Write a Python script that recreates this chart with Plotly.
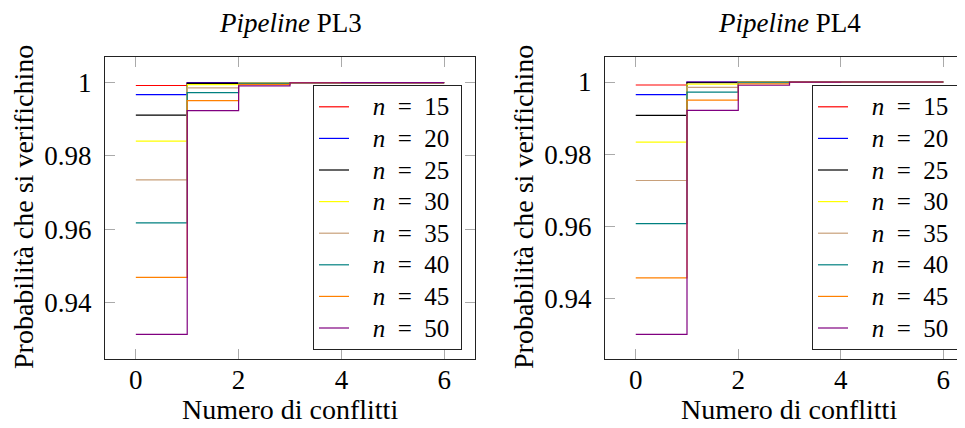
import plotly.graph_objects as go

conflicts = [0, 1, 2, 3, 4, 5, 6]
n_labels = ["15", "20", "25", "30", "35", "40", "45", "50"]
colors = ["#ff0000", "#0000ff", "#000000", "#ffff00", "#c8a07a", "#008080", "#ff8000", "#800080"]

pl3_n15 = [0.9992, 0.99998, 1, 1, 1, 1, 1]
pl3_n20 = [0.99673, 0.99995, 1, 1, 1, 1, 1]
pl3_n25 = [0.99109, 0.9998, 1, 1, 1, 1, 1]
pl3_n30 = [0.98399, 0.99945, 0.99998, 1, 1, 1, 1]
pl3_n35 = [0.97344, 0.99855, 0.99992, 1, 1, 1, 1]
pl3_n40 = [0.96171, 0.99727, 0.9998, 1, 1, 1, 1]
pl3_n45 = [0.94682, 0.99509, 0.9995, 0.99998, 1, 1, 1]
pl3_n50 = [0.93127, 0.99236, 0.9991, 0.99995, 1, 1, 1]

pl4_n15 = [0.99917, 0.99998, 1, 1, 1, 1, 1]
pl4_n20 = [0.99648, 0.99995, 1, 1, 1, 1, 1]
pl4_n25 = [0.99073, 0.9998, 1, 1, 1, 1, 1]
pl4_n30 = [0.98333, 0.99942, 0.99998, 1, 1, 1, 1]
pl4_n35 = [0.97267, 0.99852, 0.99992, 1, 1, 1, 1]
pl4_n40 = [0.96072, 0.99722, 0.9998, 1, 1, 1, 1]
pl4_n45 = [0.94564, 0.995, 0.9995, 0.99998, 1, 1, 1]
pl4_n50 = [0.92999, 0.99213, 0.9991, 0.99995, 1, 1, 1]

pl3 = [pl3_n15, pl3_n20, pl3_n25, pl3_n30, pl3_n35, pl3_n40, pl3_n45, pl3_n50]
pl4 = [pl4_n15, pl4_n20, pl4_n25, pl4_n30, pl4_n35, pl4_n40, pl4_n45, pl4_n50]

FONT = "Liberation Serif"
fig = go.Figure()

NB = "\u00a0"
for series, xa, ya, lg in [(pl3, "x", "y", "legend"), (pl4, "x2", "y2", "legend2")]:
    for lab, col, ys in zip(n_labels, colors, series):
        fig.add_trace(go.Scatter(
            x=conflicts, y=ys, mode="lines", line=dict(color=col, width=1.2, shape="hv"),
            name=f'<span style="font-size:25px">{NB*3}<i>n</i>{NB*2}={NB*2}{lab}{NB}</span>',
            xaxis=xa, yaxis=ya, legend=lg,
        ))

# the page body has an 8px margin, so figure coordinates = screen coordinates - 8
W, H = 975, 428
OFF = 8
def fx(px):
    return (px - OFF) / W
def fy(py):
    return 1 - (py - OFF) / H

ax_common = dict(showline=True, linecolor="#222", linewidth=1, mirror="ticks", ticks="inside",
                 ticklen=10, tickcolor="#aaaaaa", showgrid=False, zeroline=False,
                 tickfont=dict(family=FONT, size=27, color="black"))

ydom = [fy(359.3), fy(57)]
fig.update_layout(
    width=W, height=H, margin=dict(l=0, r=0, t=0, b=0),
    paper_bgcolor="white", plot_bgcolor="white",
    font=dict(family=FONT, color="black"),
    xaxis=dict(domain=[fx(105), fx(475)], range=[-0.6, 6.6], tickvals=[0, 2, 4, 6], anchor="y",
               ticklabelstandoff=-4, **ax_common),
    yaxis=dict(domain=ydom, range=[0.92445, 1.00698], tickvals=[0.94, 0.96, 0.98, 1],
               ticktext=["0.94", "0.96", "0.98", "1"], anchor="x", ticklabelstandoff=7, **ax_common),
    xaxis2=dict(domain=[fx(605), fx(974)], range=[-0.6, 6.6], tickvals=[0, 2, 4, 6],
                anchor="y2", ticklabelstandoff=-4, **ax_common),
    yaxis2=dict(domain=ydom, range=[0.92306, 1.00694], tickvals=[0.94, 0.96, 0.98, 1],
                ticktext=["0.94", "0.96", "0.98", "1"], anchor="x2", ticklabelstandoff=7, **ax_common),
    legend=dict(x=fx(313), y=fy(85), xanchor="left", yanchor="top", bgcolor="white",
                bordercolor="#222", borderwidth=1, font=dict(family=FONT, size=22),
                tracegroupgap=0),
    legend2=dict(x=fx(812), y=fy(85), xanchor="left", yanchor="top", bgcolor="white",
                 bordercolor="#222", borderwidth=1, font=dict(family=FONT, size=22),
                 tracegroupgap=0),
    showlegend=True,
)

ann = []
for cx, ttl in [(290, "<i>Pipeline</i> PL3"), (789, "<i>Pipeline</i> PL4")]:
    ann.append(dict(text=ttl, x=fx(cx), y=fy(23), xref="paper", yref="paper",
                    showarrow=False, font=dict(family=FONT, size=27), xanchor="center", yanchor="middle"))
for cx in [290, 789]:
    ann.append(dict(text="Numero di conflitti", x=fx(cx), y=fy(409), xref="paper", yref="paper",
                    showarrow=False, font=dict(family=FONT, size=28), xanchor="center", yanchor="middle"))
for cx in [23, 523]:
    ann.append(dict(text="Probabilità che si verifichino", x=fx(cx), y=fy(207), xref="paper",
                    yref="paper", textangle=-90, showarrow=False, font=dict(family=FONT, size=28),
                    xanchor="center", yanchor="middle"))
fig.update_layout(annotations=ann)

fig.write_html("out.html")
